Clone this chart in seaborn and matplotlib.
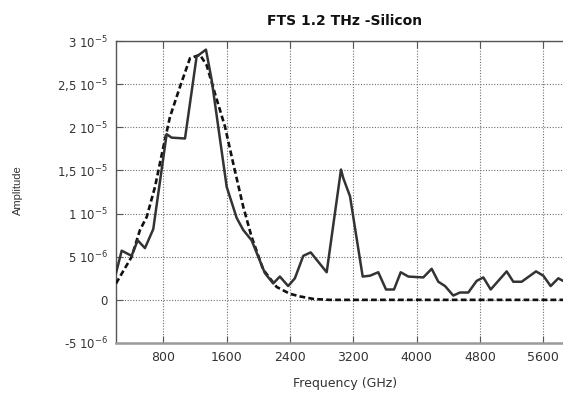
import matplotlib
matplotlib.use("Agg")
import matplotlib.pyplot as plt
import seaborn as sns
import pandas as pd

# ---- data (amplitude in units of 1e-6) ----
meas_freq = [200, 272, 397, 474, 566, 671, 840, 903, 1072, 1219, 1337, 1409, 1599, 1725,
             1808, 1914, 2082, 2187, 2271, 2376, 2461, 2567, 2661, 2863, 3044, 3073, 3158,
             3318, 3411, 3515, 3613, 3714, 3799, 3895, 4084, 4190, 4274, 4359, 4463, 4548,
             4653, 4759, 4843, 4936, 5138, 5222, 5328, 5509, 5601, 5694, 5791, 5850]
meas_amp = [3.1, 5.7, 5.1, 6.9, 6.0, 8.2, 19.2, 18.8, 18.7, 28.2, 29.0, 25.5, 13.1, 9.5,
            8.1, 6.9, 3.1, 1.9, 2.7, 1.6, 2.5, 5.1, 5.5, 3.2, 15.1, 14.1, 12.0,
            2.7, 2.8, 3.2, 1.2, 1.2, 3.2, 2.7, 2.6, 3.6, 2.1, 1.6, 0.5, 0.85,
            0.85, 2.2, 2.6, 1.2, 3.3, 2.1, 2.1, 3.3, 2.8, 1.6, 2.5, 2.2]

model_freq = [200, 398, 503, 588, 693, 798, 882, 1009, 1135, 1261, 1346, 1451, 1577, 1682,
              1808, 1914, 2061, 2230, 2398, 2524, 2700, 2900, 3500, 4500, 5850]
model_amp = [1.9, 5.0, 8.1, 9.6, 13.1, 17.7, 21.2, 24.7, 28.0, 28.4, 27.2, 23.9, 20.1, 15.8,
             10.8, 7.3, 3.5, 1.5, 0.7, 0.4, 0.1, 0.0, 0.0, 0.0, 0.0]

x_ticks = [800, 1600, 2400, 3200, 4000, 4800, 5600]
x_tick_labels = ["800", "1600", "2400", "3200", "4000", "4800", "5600"]
y_ticks = [-5, 0, 5, 10, 15, 20, 25, 30]
y_tick_labels = ["-5 10$^{-6}$", "0", "5 10$^{-6}$", "1 10$^{-5}$", "1,5 10$^{-5}$",
                 "2 10$^{-5}$", "2,5 10$^{-5}$", "3 10$^{-5}$"]

title = "FTS 1.2 THz -Silicon"
x_label = "Frequency (GHz)"
y_label = "Amplitude"

# ---- styling ----
sns.set_theme(style="white")
plt.rcParams["font.family"] = ["DejaVu Sans"]
plt.rcParams["mathtext.fontset"] = "dejavusans"

fig = plt.figure(figsize=(5.63, 3.94), dpi=100)
ax = fig.add_axes([116 / 563, 1 - 343 / 394, 447 / 563, 302 / 394])

meas_df = pd.DataFrame({"freq": meas_freq, "amp": meas_amp})
model_df = pd.DataFrame({"freq": model_freq, "amp": model_amp})

ax.grid(True, linestyle=(0, (1, 1.5)), color="#6f6f6f", linewidth=0.8, zorder=0)
ax.set_axisbelow(True)

sns.lineplot(data=model_df, x="freq", y="amp", ax=ax, color="#111111", linewidth=1.9,
             estimator=None, sort=False, zorder=3)
ax.lines[-1].set_linestyle((0, (2.2, 1.2)))
sns.lineplot(data=meas_df, x="freq", y="amp", ax=ax, color="#333333", linewidth=1.8,
             estimator=None, sort=False, zorder=4)

ax.set_xlim(200, 5850)
ax.set_ylim(-5, 30)
ax.set_xticks(x_ticks)
ax.set_xticklabels(x_tick_labels)
ax.set_yticks(y_ticks)
ax.set_yticklabels(y_tick_labels)

ax.tick_params(axis="x", direction="in", length=5, width=0.8, color="#555555",
               labelsize=9, labelcolor="#333333", pad=6, top=True, bottom=True)
ax.tick_params(axis="y", direction="in", length=5, width=0.8, color="#555555",
               labelsize=8.5, labelcolor="#333333", pad=6, left=True)

for s in ["left", "top"]:
    ax.spines[s].set_color("#555555")
    ax.spines[s].set_linewidth(1.0)
ax.spines["bottom"].set_color("#9a9a9a")
ax.spines["bottom"].set_linewidth(1.8)
ax.spines["right"].set_visible(False)

ax.set_xlabel(x_label, fontsize=9, color="#333333")
ax.xaxis.set_label_coords(0.513, -0.112)
ax.set_ylabel(y_label, fontsize=8, color="#333333", family=["Liberation Sans", "DejaVu Sans"])
ax.yaxis.set_label_coords(-0.208, 0.507)

fig.text(345 / 563, 1 - 21 / 394, title, ha="center", va="center", fontsize=10,
         fontweight="bold", color="#111111")

fig.savefig("out.png", dpi=100)
